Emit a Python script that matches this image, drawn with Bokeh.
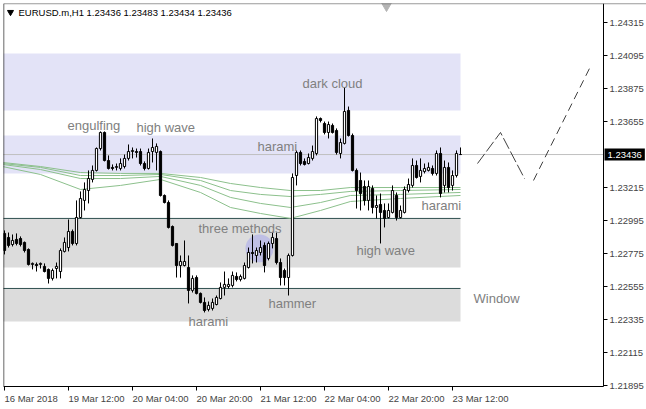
from bokeh.plotting import figure
from bokeh.models import Range1d, FixedTicker, Label, Span, PrintfTickFormatter, ColumnDataSource
from bokeh.embed import file_html
from bokeh.resources import INLINE
from bokeh.core.properties import value

# ---------------- data ----------------
symbol = "EURUSD.m,H1"
bars = list(range(115))
opens = [1.22910, 1.22883, 1.22836, 1.22870, 1.22876, 1.22850, 1.22803, 1.22703, 1.22703, 1.22703,
         1.22690, 1.22670, 1.22610, 1.22676, 1.22656, 1.22790, 1.22816, 1.22923, 1.22843, 1.23016,
         1.23130, 1.23196, 1.23270, 1.23330, 1.23476, 1.23583, 1.23396, 1.23350, 1.23350, 1.23343,
         1.23356, 1.23410, 1.23456, 1.23456, 1.23456, 1.23376, 1.23343, 1.23456, 1.23450, 1.23456,
         1.23163, 1.23116, 1.22956, 1.22843, 1.22696, 1.22696, 1.22683, 1.22530, 1.22616, 1.22510,
         1.22450, 1.22403, 1.22410, 1.22436, 1.22476, 1.22550, 1.22556, 1.22563, 1.22623, 1.22603,
         1.22610, 1.22683, 1.22783, 1.22763, 1.22783, 1.22830, 1.22743, 1.22843, 1.22876, 1.22716,
         1.22663, 1.22616, 1.22763, 1.23296, 1.23450, 1.23390, 1.23376, 1.23410, 1.23443, 1.23676,
         1.23643, 1.23583, 1.23630, 1.23596, 1.23443, 1.23510, 1.23730, 1.23563, 1.23330, 1.23263,
         1.23223, 1.23130, 1.23210, 1.23083, 1.23103, 1.23063, 1.23016, 1.23050, 1.23163, 1.23016,
         1.23050, 1.23196, 1.23230, 1.23363, 1.23290, 1.23323, 1.23330, 1.23343, 1.23310, 1.23443,
         1.23230, 1.23350, 1.23230, 1.23296, 1.23436]
highs = [1.22930, 1.22916, 1.22903, 1.22910, 1.22890, 1.22856, 1.22810, 1.22716, 1.22716, 1.22716,
         1.22710, 1.22676, 1.22676, 1.22716, 1.22810, 1.22883, 1.23003, 1.22936, 1.23130, 1.23190,
         1.23250, 1.23330, 1.23363, 1.23483, 1.23590, 1.23590, 1.23430, 1.23370, 1.23376, 1.23410,
         1.23436, 1.23503, 1.23483, 1.23476, 1.23476, 1.23390, 1.23476, 1.23543, 1.23510, 1.23463,
         1.23170, 1.23130, 1.22963, 1.22843, 1.22763, 1.22863, 1.22763, 1.22630, 1.22630, 1.22516,
         1.22483, 1.22456, 1.22476, 1.22496, 1.22583, 1.22656, 1.22610, 1.22656, 1.22650, 1.22636,
         1.22716, 1.22816, 1.22903, 1.22816, 1.22863, 1.22850, 1.22856, 1.22916, 1.22916, 1.22743,
         1.22676, 1.22776, 1.23310, 1.23463, 1.23463, 1.23410, 1.23443, 1.23496, 1.23690, 1.23683,
         1.23656, 1.23656, 1.23643, 1.23610, 1.23543, 1.23883, 1.23756, 1.23576, 1.23343, 1.23316,
         1.23263, 1.23263, 1.23230, 1.23163, 1.23176, 1.23110, 1.23110, 1.23230, 1.23183, 1.23096,
         1.23223, 1.23276, 1.23410, 1.23396, 1.23410, 1.23376, 1.23383, 1.23363, 1.23463, 1.23483,
         1.23396, 1.23383, 1.23330, 1.23463, 1.23483]
lows = [1.22770, 1.22816, 1.22823, 1.22830, 1.22823, 1.22783, 1.22696, 1.22670, 1.22656, 1.22676,
        1.22650, 1.22576, 1.22596, 1.22610, 1.22610, 1.22783, 1.22790, 1.22830, 1.22830, 1.23010,
        1.23063, 1.23110, 1.23250, 1.23323, 1.23463, 1.23390, 1.23336, 1.23330, 1.23330, 1.23330,
        1.23343, 1.23396, 1.23410, 1.23416, 1.23363, 1.23330, 1.23336, 1.23383, 1.23330, 1.23156,
        1.23110, 1.22943, 1.22823, 1.22616, 1.22616, 1.22690, 1.22443, 1.22516, 1.22503, 1.22443,
        1.22383, 1.22390, 1.22396, 1.22430, 1.22470, 1.22496, 1.22543, 1.22550, 1.22590, 1.22590,
        1.22603, 1.22676, 1.22710, 1.22716, 1.22763, 1.22650, 1.22730, 1.22810, 1.22703, 1.22563,
        1.22563, 1.22496, 1.22756, 1.23230, 1.23363, 1.23363, 1.23370, 1.23396, 1.23430, 1.23650,
        1.23570, 1.23543, 1.23576, 1.23436, 1.23410, 1.23503, 1.23556, 1.23323, 1.23076, 1.23063,
        1.23096, 1.23063, 1.23043, 1.23010, 1.22843, 1.22950, 1.23010, 1.23043, 1.22996, 1.23010,
        1.23043, 1.23183, 1.23216, 1.23276, 1.23250, 1.23310, 1.23323, 1.23296, 1.23296, 1.23150,
        1.23183, 1.23183, 1.23196, 1.23283, 1.23434]
closes = [1.22796, 1.22830, 1.22863, 1.22843, 1.22836, 1.22796, 1.22703, 1.22710, 1.22696, 1.22710,
          1.22656, 1.22610, 1.22663, 1.22690, 1.22796, 1.22850, 1.22923, 1.22843, 1.23016, 1.23143,
          1.23203, 1.23276, 1.23330, 1.23476, 1.23583, 1.23396, 1.23343, 1.23343, 1.23356, 1.23376,
          1.23410, 1.23456, 1.23463, 1.23450, 1.23376, 1.23343, 1.23450, 1.23483, 1.23490, 1.23163,
          1.23116, 1.22950, 1.22830, 1.22696, 1.22723, 1.22723, 1.22530, 1.22610, 1.22510, 1.22450,
          1.22396, 1.22430, 1.22450, 1.22483, 1.22550, 1.22570, 1.22570, 1.22630, 1.22603, 1.22623,
          1.22696, 1.22783, 1.22776, 1.22796, 1.22816, 1.22696, 1.22843, 1.22883, 1.22716, 1.22616,
          1.22616, 1.22763, 1.23283, 1.23450, 1.23376, 1.23370, 1.23416, 1.23456, 1.23676, 1.23663,
          1.23583, 1.23636, 1.23583, 1.23450, 1.23516, 1.23723, 1.23563, 1.23330, 1.23196, 1.23176,
          1.23130, 1.23223, 1.23083, 1.23096, 1.23050, 1.23010, 1.23063, 1.23196, 1.23016, 1.23063,
          1.23203, 1.23236, 1.23363, 1.23283, 1.23330, 1.23343, 1.23350, 1.23310, 1.23443, 1.23176,
          1.23350, 1.23216, 1.23296, 1.23443, 1.23436]

# moving averages, read at sample bars
ma_bars = [-0.5, 9, 19, 29, 39, 49, 56.5, 64, 71.5, 79, 86.5, 99, 114]
ma_1 = [1.23383, 1.23356, 1.23316, 1.23310, 1.23310, 1.23283, 1.23243, 1.23216, 1.23196, 1.23196, 1.23216, 1.23216, 1.23216]
ma_2 = [1.23376, 1.23350, 1.23296, 1.23296, 1.23303, 1.23263, 1.23196, 1.23170, 1.23156, 1.23170, 1.23190, 1.23196, 1.23203]
ma_3 = [1.23370, 1.23336, 1.23276, 1.23276, 1.23290, 1.23230, 1.23150, 1.23110, 1.23083, 1.23116, 1.23163, 1.23170, 1.23183]
ma_4 = [1.23356, 1.23303, 1.23203, 1.23230, 1.23270, 1.23183, 1.23083, 1.23043, 1.23010, 1.23063, 1.23123, 1.23143, 1.23163]

# zones
zone_start = -1
zone_end = 114
supply_top = [1.24110, 1.23563]
supply_bottom = [1.23730, 1.23310]
demand_top = [1.23010, 1.22543]
demand_bottom = [1.22683, 1.22323]

# projected path
proj1_x = [118.25, 124, 130]
proj1_y = [1.23376, 1.23583, 1.23276]
proj2_x = [132.25, 146.25]
proj2_y = [1.23263, 1.24010]

# pattern labels
pattern_names = ["engulfing", "high wave", "dark cloud", "harami", "three methods",
                 "high wave", "harami", "hammer", "harami", "Window"]
pattern_x = [15.75, 33, 74.5, 63.25, 48.5, 88, 104.25, 66, 46, 117.25]
pattern_y = [1.23630, 1.23616, 1.23910, 1.23490, 1.22943, 1.22796, 1.23096, 1.22443, 1.22323, 1.22476]

highlight_x = [63.75]
highlight_y = [1.22810]

y_ticks = [1.24315, 1.24095, 1.23875, 1.23655, 1.23435, 1.23215, 1.22995, 1.22775, 1.22555, 1.22335, 1.22115, 1.21895]
y_tick_show = [t for t in y_ticks if abs(t - closes[-1]) > 0.00005]
x_tick_bars = [0, 16, 32, 48, 64, 80, 96, 112]
x_tick_labels = ["16 Mar 2018", "19 Mar 12:00", "20 Mar 04:00", "20 Mar 20:00",
                 "21 Mar 12:00", "22 Mar 04:00", "22 Mar 20:00", "23 Mar 12:00"]

x_start = -0.25
chart_end = 149.75    # right edge of the price area (bars)
view_end = 160.5      # right edge including the price scale
y_bottom = 1.21889    # price at the time axis
y_high = 1.24443
y_view_low = 1.21736  # lower edge including the time scale

# ---------------- figure ----------------
FONT = "Liberation Sans"
p = figure(width=646, height=409, output_backend="svg", toolbar_location=None,
           x_range=Range1d(x_start, view_end), y_range=Range1d(y_view_low, y_high),
           y_axis_location="right", min_border_left=3, min_border_top=3,
           min_border_right=0, min_border_bottom=0)
p.grid.visible = False
p.outline_line_color = None

# zones
p.quad(left=[zone_start] * 2, right=[zone_end] * 2, top=supply_top, bottom=supply_bottom,
       fill_color="#E3E3F7", line_color=None)
p.quad(left=[zone_start] * 2, right=[zone_end] * 2, top=demand_top, bottom=demand_bottom,
       fill_color="#DCDCDC", line_color=None)
p.segment(x0=[zone_start] * 2, x1=[zone_end] * 2, y0=demand_top, y1=demand_top,
          line_color="#2F4F4F", line_width=1)

# last price line
p.segment(x0=[x_start - 1], x1=[chart_end], y0=[closes[-1]], y1=[closes[-1]],
          line_color="#C0C0C0", line_width=1)

# moving averages
for ma in (ma_1, ma_2, ma_3, ma_4):
    p.line(ma_bars, ma, line_color="#8CC08C", line_width=1)

# highlight circle
p.ellipse(x=highlight_x, y=highlight_y, width=7, height=0.00185,
          fill_color="#9C9CF0", fill_alpha=0.45, line_color=None)

# candles
src = ColumnDataSource(dict(
    x=bars, high=highs, low=lows,
    top=[max(o, c) for o, c in zip(opens, closes)],
    bottom=[min(o, c) for o, c in zip(opens, closes)],
    fill=["white" if c >= o else "black" for o, c in zip(opens, closes)],
))
p.segment(x0="x", x1="x", y0="high", y1="low", source=src, line_color="black", line_width=1)
p.vbar(x="x", width=0.55, top="top", bottom="bottom", fill_color="fill",
       line_color="black", line_width=1, source=src)

# projection
p.line(proj1_x, proj1_y, line_color="#404040", line_width=1, line_dash="12 3")
p.line(proj2_x, proj2_y, line_color="#404040", line_width=1, line_dash="8 5")

# pattern labels
p.text(x=pattern_x, y=pattern_y, text=pattern_names, text_font=value(FONT),
       text_font_size="13px", text_color="#808080", text_baseline="middle", text_align="left")

# chart borders (left and top)
p.segment(x0=[x_start + 0.05], x1=[x_start + 0.05], y0=[y_bottom], y1=[y_high],
          line_color="black", line_width=1)
p.add_layout(Span(location=y_high - 0.00001, dimension="width", line_color="#505050", line_width=1))

# header
p.scatter(x=[1.5], y=[1.24385], marker="inverted_triangle", size=6, color="black")
p.scatter(x=[95.5], y=[1.24428], marker="inverted_triangle", size=10, color="#B4B4B4")
header = "%s  %.5f %.5f %.5f %.5f" % (symbol, opens[-1], highs[-1], lows[-1], closes[-1])
p.add_layout(Label(x=3.5, y=1.24383, text=header, text_font=FONT, text_font_size="9.5px",
                   text_color="black", text_baseline="middle"))

# y axis, drawn at the right edge of the price area
ya = p.yaxis[0]
ya.fixed_location = chart_end
ya.bounds = (y_bottom, y_high)
ya.ticker = FixedTicker(ticks=y_tick_show, minor_ticks=[])
ya.formatter = PrintfTickFormatter(format="%.5f")
ya.major_tick_out = 4
ya.major_tick_in = 0
ya.major_label_standoff = 2
ya.major_label_text_font = FONT
ya.major_label_text_font_size = "9.5px"
ya.axis_line_color = "black"

# current price tag
p.add_layout(Label(x=chart_end, y=closes[-1], text="%.5f" % closes[-1], x_offset=1,
                   text_font=FONT, text_font_size="9.5px", text_color="white",
                   text_baseline="middle", background_fill_color="black", padding=3))

# x axis, drawn at the bottom of the price area, labels starting at the tick
xa = p.xaxis[0]
xa.fixed_location = y_bottom
xa.bounds = (x_start, chart_end)
xa.ticker = FixedTicker(ticks=x_tick_bars, minor_ticks=[])
xa.major_label_overrides = {t: lab for t, lab in zip(x_tick_bars, x_tick_labels)}
xa.major_label_orientation = -0.0001
xa.major_tick_out = 4
xa.major_tick_in = 0
xa.major_label_standoff = 8
xa.major_label_text_font = FONT
xa.major_label_text_font_size = "9.5px"
xa.axis_line_color = "black"

open("out.html", "w").write(file_html(p, INLINE))
